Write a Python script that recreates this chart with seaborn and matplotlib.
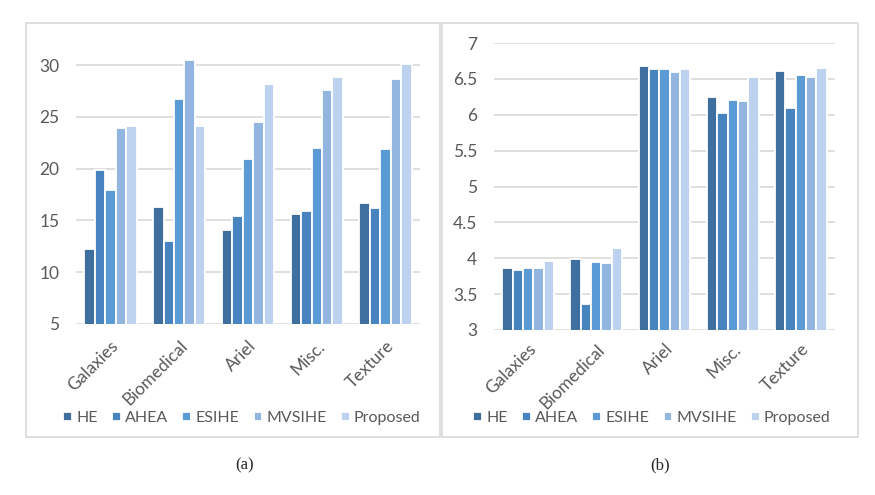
import pandas as pd
import numpy as np
import matplotlib
matplotlib.use("Agg")
import matplotlib.pyplot as plt
import seaborn as sns

# data
categories = ["Galaxies", "Biomedical", "Ariel", "Misc.", "Texture"]
methods = ["HE", "AHEA", "ESIHE", "MVSIHE", "Proposed"]

# panel (a)
a_HE = [12.2, 16.3, 14.1, 15.6, 16.7]
a_AHEA = [19.9, 13.0, 15.4, 15.9, 16.2]
a_ESIHE = [17.9, 26.7, 20.9, 22.0, 21.9]
a_MVSIHE = [23.9, 30.5, 24.5, 27.6, 28.7]
a_Proposed = [24.1, 24.1, 28.2, 28.9, 30.1]

# panel (b)
b_HE = [3.87, 3.99, 6.68, 6.25, 6.61]
b_AHEA = [3.84, 3.36, 6.64, 6.02, 6.09]
b_ESIHE = [3.86, 3.95, 6.64, 6.20, 6.56]
b_MVSIHE = [3.86, 3.93, 6.60, 6.19, 6.52]
b_Proposed = [3.96, 4.14, 6.64, 6.53, 6.65]

colors = ["#3F6F9F", "#4683BF", "#5B9BD5", "#92B6E0", "#BDD2EE"]


def to_long(series):
    rows = []
    for m, vals in zip(methods, series):
        for c, v in zip(categories, vals):
            rows.append({"category": c, "method": m, "value": v})
    return pd.DataFrame(rows)


df_a = to_long([a_HE, a_AHEA, a_ESIHE, a_MVSIHE, a_Proposed])
df_b = to_long([b_HE, b_AHEA, b_ESIHE, b_MVSIHE, b_Proposed])

sns.set_style("white")
plt.rcParams["font.family"] = ["Lato", "DejaVu Sans"]
txt = "#595959"
grid_c = "#D9D9D9"

fig = plt.figure(figsize=(8.75, 4.95), dpi=100)

# panel borders
for x0, x1 in [(26, 440), (442, 858)]:
    fig.patches.append(plt.Rectangle((x0 / 875, 1 - 437 / 495), (x1 - x0) / 875, 414 / 495,
                                     transform=fig.transFigure, fill=False,
                                     edgecolor=grid_c, linewidth=1.2))

ax1 = fig.add_axes([76 / 875, 1 - 324 / 495, 344 / 875, 266 / 495])
ax2 = fig.add_axes([494 / 875, 1 - 330 / 495, 341 / 875, 287 / 495])


def draw(ax, df, ylim, ticks, ticklabels, xpad):
    sns.barplot(data=df, x="category", y="value", hue="method", palette=colors,
                saturation=1, width=0.76, edgecolor="white", linewidth=1.3,
                ax=ax, legend=True)
    ax.set_ylim(*ylim)
    ax.set_yticks(ticks)
    ax.set_yticklabels(ticklabels)
    ax.set_xlabel("")
    ax.set_ylabel("")
    for s in ax.spines.values():
        s.set_visible(False)
    ax.grid(axis="y", color=grid_c, linewidth=1.2)
    ax.set_axisbelow(True)
    ax.tick_params(axis="y", length=0, labelsize=12.5, labelcolor=txt, pad=12)
    ax.tick_params(axis="x", length=0, labelsize=12.5, labelcolor=txt, pad=xpad)
    plt.setp(ax.get_xticklabels(), rotation=45, ha="right", rotation_mode="anchor")
    ax.get_legend().remove()


draw(ax1, df_a, (5, 30.7), [5, 10, 15, 20, 25, 30], ["5", "10", "15", "20", "25", "30"], 10)
draw(ax2, df_b, (3, 7), [3, 3.5, 4, 4.5, 5, 5.5, 6, 6.5, 7],
     ["3", "3.5", "4", "4.5", "5", "5.5", "6", "6.5", "7"], 8)

# legends below each panel
for ax, cx in [(ax1, 242 / 875), (ax2, 652 / 875)]:
    h, l = ax.get_legend_handles_labels()
    fig.legend(h[:5], l[:5], loc="center", bbox_to_anchor=(cx, 1 - 418 / 495), ncol=5,
               frameon=False, fontsize=11.5, labelcolor=txt, handlelength=0.55,
               handleheight=0.55, handletextpad=0.25, columnspacing=0.9)

fig.text(245 / 875, 1 - 465 / 495, "(a)", ha="center", va="center",
         family="Liberation Serif", fontsize=12)
fig.text(660 / 875, 1 - 465 / 495, "(b)", ha="center", va="center",
         family="Liberation Serif", fontsize=12)

fig.savefig("out.png", dpi=100, facecolor="white")
